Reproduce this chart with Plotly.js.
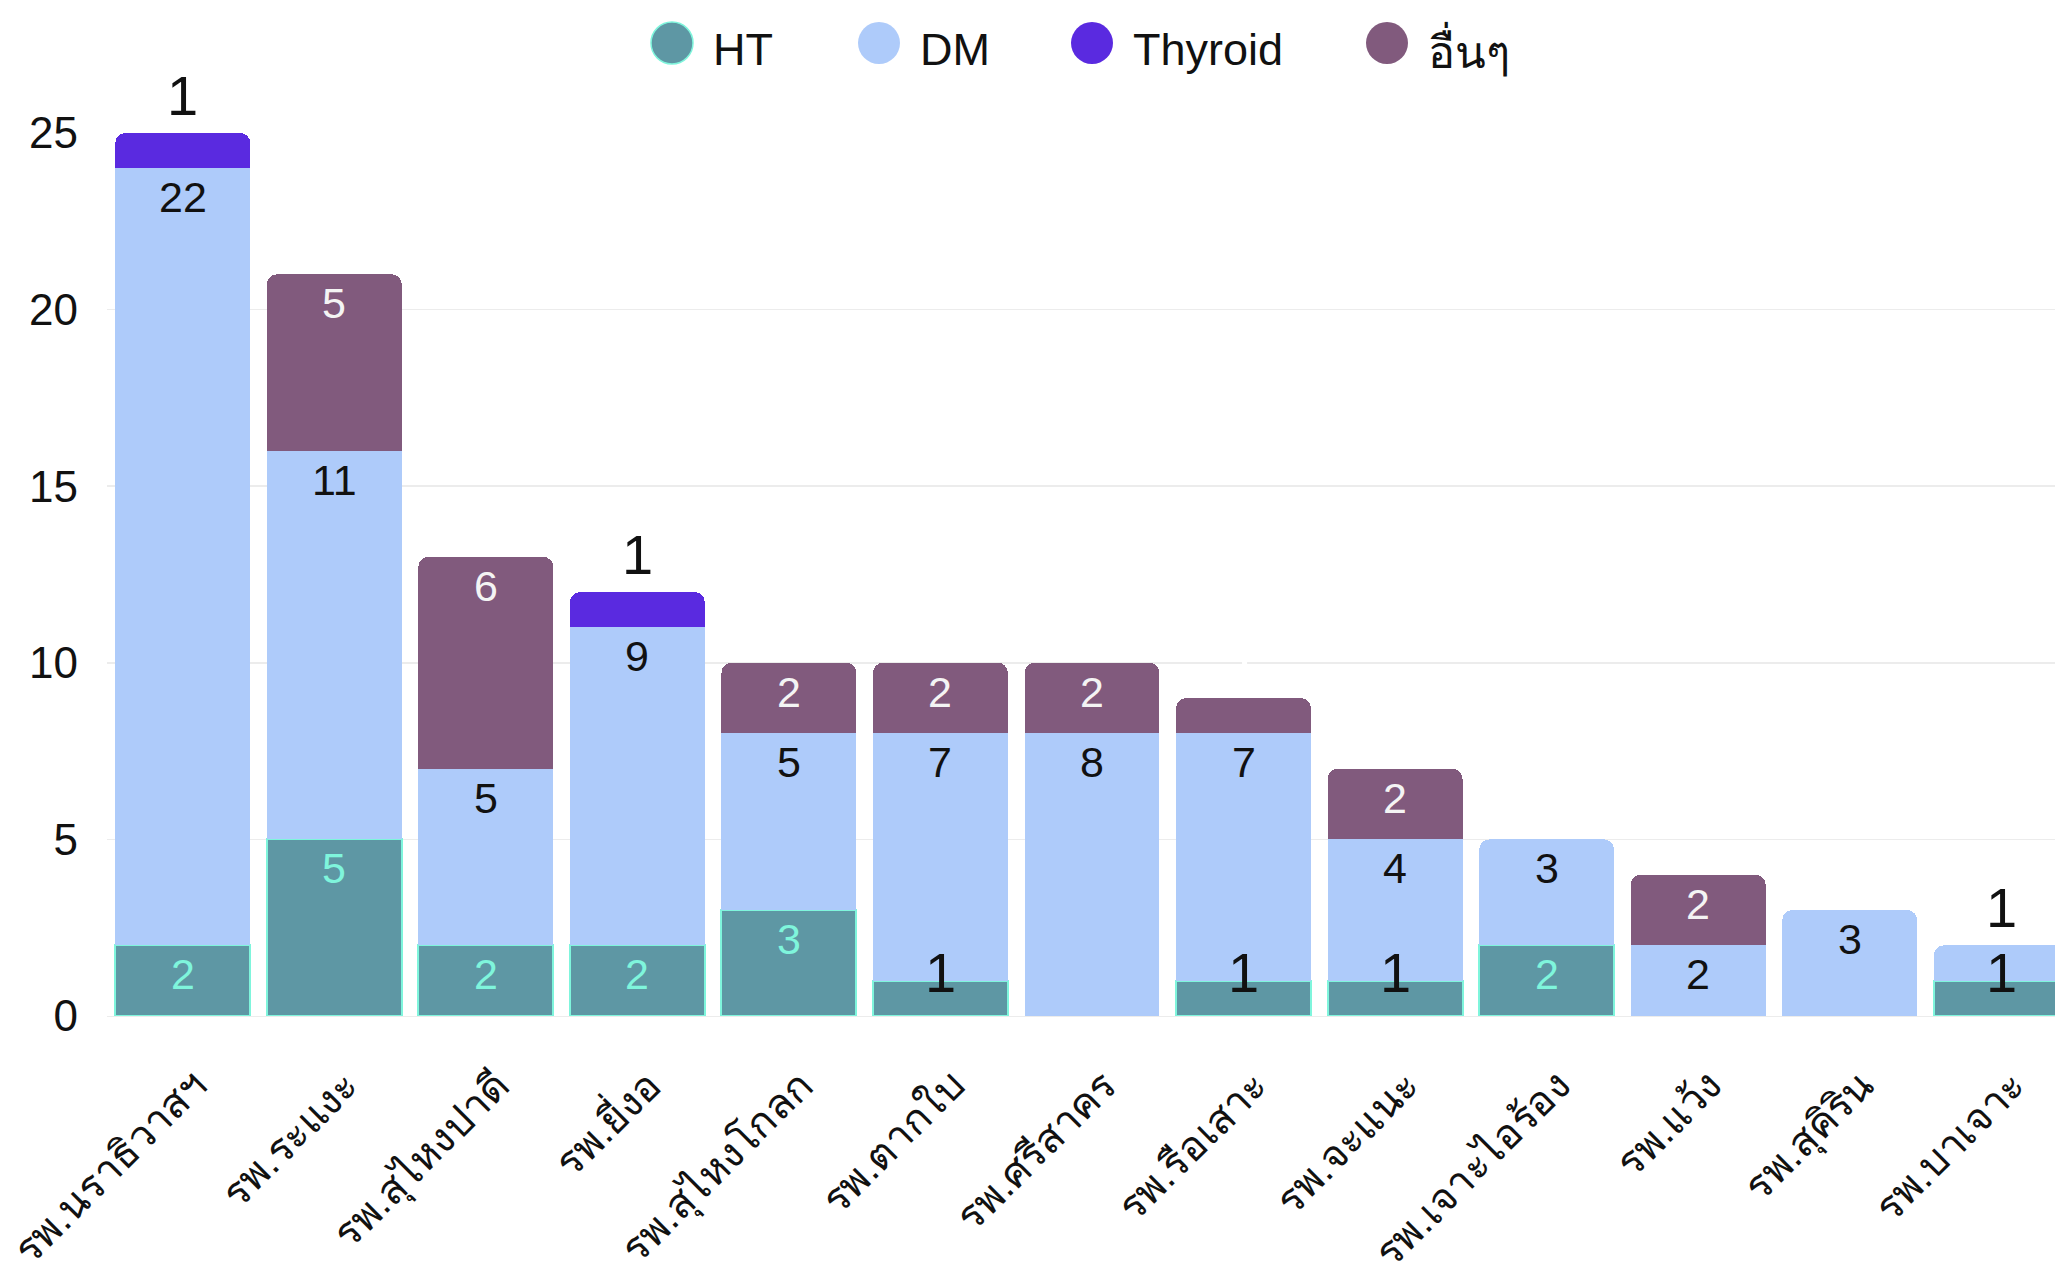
<!DOCTYPE html>
<html>
<head>
<meta charset="utf-8">
<script src="https://cdn.plot.ly/plotly-3.0.1.min.js"></script>
<style>
html,body{margin:0;padding:0;background:#fff;overflow:hidden;width:2055px;height:1271px;}
#chart{width:2090px;height:1271px;}
</style>
</head>
<body>
<div id="chart"></div>
<script>
const categories = ['รพ.นราธิวาสฯ','รพ.ระแงะ','รพ.สุไหงปาดี','รพ.ยี่งอ','รพ.สุไหงโกลก','รพ.ตากใบ','รพ.ศรีสาคร','รพ.รือเสาะ','รพ.จะแนะ','รพ.เจาะไอร้อง','รพ.แว้ง','รพ.สุคิริน','รพ.บาเจาะ'];
const seriesNames = ['HT','DM','Thyroid','อื่นๆ'];
const htValues      = [2,5,2,2,3,1,0,1,1,2,0,0,1];
const dmValues      = [22,11,5,9,5,7,8,7,4,3,2,3,1];
const thyroidValues = [1,0,0,1,0,0,0,0,0,0,0,0,0];
const otherValues   = [0,5,6,0,2,2,2,1,2,0,2,0,0];

const series = [htValues, dmValues, thyroidValues, otherValues];
const fills = ['#5e97a4','#aecbfa','#5a2ae0','#815a7d'];
const borders = ['#7ff5dc','rgba(0,0,0,0)','rgba(0,0,0,0)','rgba(0,0,0,0)'];
const labelColors = ['#7ff5dc','#111111','#111111','#f4f4f4'];
const FONT = 'Helvetica, Arial, "Liberation Sans", sans-serif';

const traces = series.map((vals, s) => ({
  type: 'bar',
  name: seriesNames[s],
  x: categories,
  y: vals,
  marker: {color: fills[s], line: {color: borders[s], width: s === 0 ? 2 : 0}},
  showlegend: false,
  hoverinfo: 'x+y+name'
}));

// data labels
const annotations = [];
categories.forEach((c, i) => {
  let base = 0;
  const total = series.reduce((a, v) => a + v[i], 0);
  series.forEach((vals, s) => {
    const v = vals[i];
    if (v > 0) {
      const top = base + v;
      const isTop = top === total;
      let shift, size, color;
      if (v === 1) {
        size = 56;
        color = s === 3 ? '#ffffff' : '#111111';
        shift = isTop ? 38 : 8;
      } else {
        size = 43;
        color = labelColors[s];
        shift = -29;
      }
      annotations.push({
        x: c, y: top, xref: 'x', yref: 'y',
        text: String(v), showarrow: false,
        yanchor: 'middle', xanchor: 'center', yshift: shift,
        font: {family: FONT, size: size, color: color}
      });
    }
    base += v;
  });
});

// manual legend (pixel positions converted to paper coords)
const plotL = 107, plotW = 1970, plotT = 133, plotH = 883;
const legendCircleX = [672, 879, 1092, 1387];
const legendY = 43, legendTextY = 49;
const shapes = [];
seriesNames.forEach((n, s) => {
  const px = (legendCircleX[s] - plotL) / plotW;
  const py = (plotT + plotH - legendY) / plotH;
  shapes.push({
    type: 'circle', xref: 'paper', yref: 'paper',
    xsizemode: 'pixel', ysizemode: 'pixel',
    xanchor: px, yanchor: py, x0: -21, x1: 21, y0: -21, y1: 21,
    fillcolor: fills[s], line: {color: s === 0 ? '#7ff5dc' : fills[s], width: s === 0 ? 1.5 : 0}
  });
  annotations.push({
    x: (legendCircleX[s] + 39 - plotL) / plotW, y: (plotT + plotH - legendTextY) / plotH,
    xref: 'paper', yref: 'paper',
    text: n, showarrow: false, xanchor: 'left', yanchor: 'middle',
    font: {family: FONT, size: 45, color: '#111111'}
  });
});

const layout = {
  width: 2090, height: 1271,
  margin: {l: plotL, r: 2090 - plotL - plotW, t: plotT, b: 1271 - plotT - plotH},
  paper_bgcolor: '#ffffff', plot_bgcolor: '#ffffff',
  barmode: 'stack', bargap: 0.11, barcornerradius: 10,
  showlegend: false,
  xaxis: {
    type: 'category', tickangle: -45, showgrid: false, zeroline: false, showline: false,
    ticks: '', ticklabelstandoff: 36, ticklabelshift: 12,
    tickfont: {family: FONT, size: 41, color: '#111111'}, automargin: false
  },
  yaxis: {
    range: [0, 25], dtick: 5, showgrid: true, gridcolor: '#ececec', gridwidth: 1.5,
    zeroline: true, zerolinecolor: '#ececec', showline: false, ticks: '',
    ticklabelstandoff: 28,
    tickfont: {family: FONT, size: 44, color: '#111111'}, automargin: false
  },
  annotations: annotations,
  shapes: shapes,
  font: {family: FONT}
};

Plotly.newPlot('chart', traces, layout, {displayModeBar: false, staticPlot: true});
</script>
</body>
</html>
